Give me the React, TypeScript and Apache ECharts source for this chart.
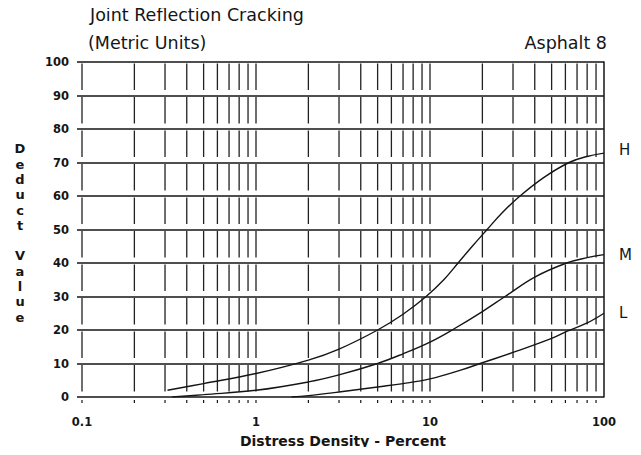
import React, { useEffect, useRef } from "react";
import * as echarts from "echarts";

// ---- data ----
const xTickValues = [0.1, 1, 10, 100];
const xTickLabels = ["0.1", "1", "10", "100"];
// vertical (dashed) grid lines at every log minor/major position
const gridLineX = [
  0.1, 0.2, 0.3, 0.4, 0.5, 0.6, 0.7, 0.8, 0.9,
  1, 2, 3, 4, 5, 6, 7, 8, 9,
  10, 20, 30, 40, 50, 60, 70, 80, 90,
];

const seriesH = [
  [0.31, 2], [0.5, 4], [1, 7], [2, 11], [3, 14.3], [5, 20], [7, 24.7],
  [9.5, 30], [12, 35], [14.5, 40], [17.5, 45], [21.3, 50], [26, 55], [32.9, 60],
  [45, 65.5], [63, 70], [80, 71.8], [100, 72.8],
];
const seriesM = [
  [0.33, 0], [0.5, 0.7], [1, 2], [2, 4.5], [3, 6.6], [5, 10], [7, 12.9],
  [10, 16.4], [13.4, 20], [20, 25.5], [27, 30], [40, 35.8], [61, 40], [80, 41.6], [100, 42.5],
];
const seriesL = [
  [1.6, 0], [2, 0.4], [3, 1.5], [5, 3], [7, 4], [10, 5.4], [15, 8],
  [19.4, 10], [30, 13.3], [50, 17.5], [61, 19.6], [80, 22.1], [100, 25],
];
const curveNames = ["H", "M", "L"];

const FONT = "DejaVu Sans";
const INK = "#151515";

export default function App() {
  const ref = useRef<HTMLDivElement>(null);
  useEffect(() => {
    if (!ref.current) return;
    const chart = echarts.init(ref.current, null, { renderer: "svg" });
    const curve = (name: string, data: number[][], dy: number) => ({
      type: "line",
      name,
      data,
      smooth: 0.4,
      symbol: "none",
      silent: true,
      lineStyle: { color: INK, width: 1.4 },
      endLabel: {
        show: true,
        formatter: name,
        distance: 15,
        offset: [0, dy],
        color: INK,
        fontFamily: FONT,
        fontSize: 15,
      },
      z: 5,
    });
    chart.setOption({
      animation: false,
      backgroundColor: "#ffffff",
      grid: { left: 82, right: 37, top: 62, bottom: 58 },
      xAxis: {
        type: "log",
        logBase: 10,
        min: 0.1,
        max: 100,
        name: "Distress Density - Percent",
        nameLocation: "middle",
        nameGap: 37,
        nameTextStyle: { fontFamily: FONT, fontSize: 14, fontWeight: "bold", color: INK },
        axisLine: { show: false },
        axisTick: { show: false },
        splitLine: { show: false },
        axisLabel: {
          margin: 19,
          fontFamily: FONT,
          fontSize: 11.5,
          fontWeight: "bold",
          color: INK,
          formatter: (v: number) => {
            const i = xTickValues.findIndex((t) => Math.abs(Math.log10(t) - Math.log10(v)) < 1e-6);
            return i >= 0 ? xTickLabels[i] : "";
          },
        },
      },
      yAxis: [
        {
          type: "value",
          min: 0,
          max: 100,
          interval: 10,
          axisLine: { show: false },
          axisTick: { show: true, length: 5, lineStyle: { color: INK, width: 1.5 } },
          splitLine: { show: true, lineStyle: { color: INK, width: 1.5 } },
          axisLabel: {
            margin: 13,
            fontFamily: FONT,
            fontSize: 11.5,
            fontWeight: "bold",
            color: INK,
          },
        },
        {
          type: "value",
          position: "right",
          min: 0,
          max: 100,
          axisLine: { show: true, lineStyle: { color: INK, width: 1.5 } },
          axisTick: { show: false },
          axisLabel: { show: false },
          splitLine: { show: false },
        },
      ],
      graphic: [
        {
          type: "text",
          x: 90,
          y: 15,
          style: {
            text: "Joint Reflection Cracking",
            font: `17.5px '${FONT}'`,
            fill: INK,
            verticalAlign: "middle",
          },
        },
        {
          type: "text",
          x: 88,
          y: 43,
          style: {
            text: "(Metric Units)",
            font: `17.5px '${FONT}'`,
            fill: INK,
            verticalAlign: "middle",
          },
        },
        {
          type: "text",
          x: 607,
          y: 43,
          style: {
            text: "Asphalt 8",
            font: `17.5px '${FONT}'`,
            fill: INK,
            align: "right",
            verticalAlign: "middle",
          },
        },
        {
          type: "text",
          x: 20,
          y: 233,
          style: {
            text: "D\ne\nd\nu\nc\nt\n\nV\na\nl\nu\ne",
            font: `bold 13px '${FONT}'`,
            fill: INK,
            align: "center",
            verticalAlign: "middle",
            lineHeight: 15.3,
          },
        },
      ],
      series: [
        {
          type: "custom",
          silent: true,
          data: gridLineX.map((v) => [v, 0]),
          encode: { x: 0, y: 1 },
          renderItem: (params: any, api: any) => {
            const xv = api.value(0);
            const top = api.coord([xv, 100]);
            const bot = api.coord([xv, 0]);
            return {
              type: "group",
              children: [
                {
                  type: "line",
                  shape: { x1: top[0], y1: top[1], x2: bot[0], y2: bot[1] },
                  style: {
                    stroke: "#222",
                    lineWidth: 1.3,
                    lineDash: [26.5, 7],
                    lineDashOffset: 31.5,
                  },
                },
                {
                  type: "line",
                  shape: { x1: bot[0], y1: bot[1] + 3, x2: bot[0], y2: bot[1] + 6 },
                  style: { stroke: INK, lineWidth: 1.2 },
                },
              ],
            };
          },
          z: 1,
        },
        curve(curveNames[0], seriesH, -3),
        curve(curveNames[1], seriesM, 0),
        curve(curveNames[2], seriesL, 0),
      ],
    });
    return () => chart.dispose();
  }, []);
  return <div ref={ref} style={{ width: 641, height: 455, margin: -8 }} />;
}
